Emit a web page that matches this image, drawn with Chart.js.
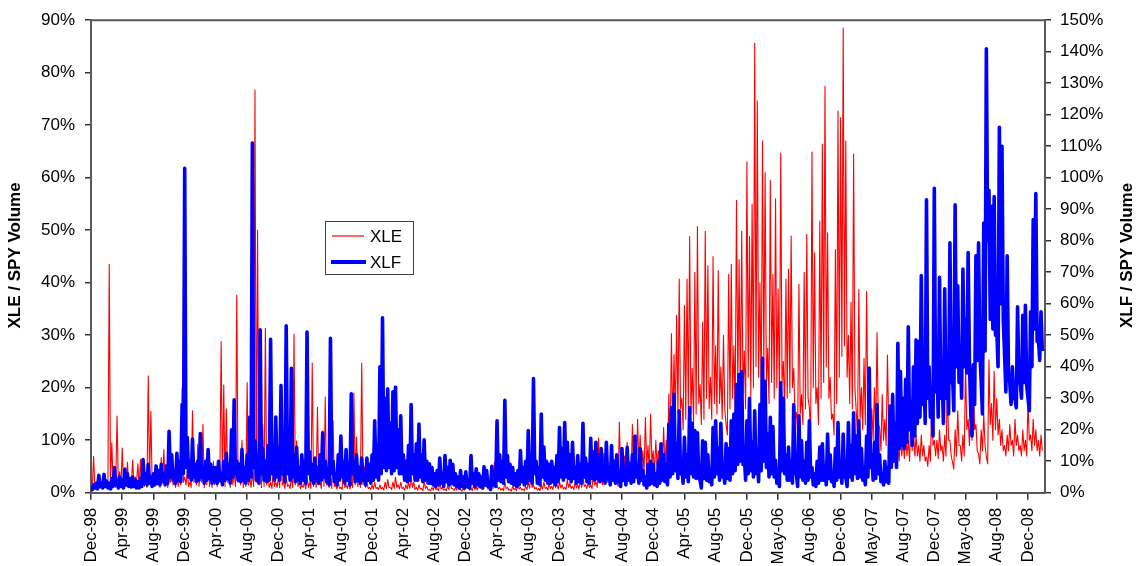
<!DOCTYPE html>
<html><head><meta charset="utf-8">
<script src="https://cdn.jsdelivr.net/npm/chart.js@4.4.1/dist/chart.umd.min.js"></script>
<style>html,body{margin:0;padding:0;background:#fff;}canvas{display:block;}</style>
</head><body>
<canvas id="c" width="1139" height="566"></canvas>
<script>
// Category labels shown on the x axis (one every 24 data points)
const tickLabels = ['Dec-98','Apr-99','Aug-99','Dec-99','Apr-00','Aug-00','Dec-00','Apr-01','Aug-01','Dec-01',
  'Apr-02','Aug-02','Dec-02','Apr-03','Aug-03','Dec-03','Apr-04','Aug-04','Dec-04','Apr-05',
  'Aug-05','Dec-05','May-06','Aug-06','Dec-06','May-07','Aug-07','Dec-07','May-08','Aug-08','Dec-08'];
const POINTS_PER_LABEL = 24;

// XLE / SPY volume (%), left axis: local highs
const xleHighs = [
  1.5, 6.9, 2, 1.5, 2, 3, 2.5, 43.5, 9.5, 3, 14.6, 4,
  8.5, 3, 5.8, 2, 6.2, 3, 5.5, 6.3, 2, 3, 22.2, 15.5,
  2, 3, 4, 6.7, 8.2, 4, 3, 5, 2, 4, 3, 20,
  3, 4, 2, 15.6, 5, 9.2, 4, 13, 5, 8, 3, 6,
  3, 5, 28.8, 20.5, 16, 3, 5, 4, 37.6, 5, 10, 5,
  21, 3, 4, 76.7, 50, 5, 13, 31.3, 3, 2, 4, 2,
  3, 20.7, 2, 3, 1.5, 3, 30.2, 9.9, 2, 1.5, 2, 3,
  2, 24.7, 3, 16.3, 2, 11.8, 18.2, 2, 3, 13.7, 1.5, 2,
  1, 6.2, 1.5, 2, 2, 19, 10.6, 3, 24.7, 5, 2, 1,
  1.5, 2, 1, 1.5, 1, 2, 2.5, 1, 2, 3, 1.5, 2,
  1, 1.5, 2, 3, 2, 1, 1.5, 0.8, 2, 1.2, 0.6, 1,
  1.5, 0.8, 2, 1, 0.7, 1.2, 2, 0.8, 1, 1.5, 0.6, 1,
  2.5, 1, 0.8, 1.5, 1, 2, 1.2, 5.2, 1.5, 1, 2, 5.8,
  1.5, 1, 0.8, 2, 1, 0.6, 1.2, 0.8, 1.5, 1, 0.7, 1.2,
  2, 3.3, 1.5, 1, 0.8, 1.5, 2, 1, 1.8, 1.2, 2.5, 1.5,
  2, 1.5, 1, 2.5, 1.8, 1.2, 2, 1.5, 2.5, 3, 1.5, 2,
  1.5, 3.7, 2, 10.4, 3, 7.5, 4, 3, 5, 4, 2, 13.4,
  5, 7, 9.6, 6, 13, 7, 14, 11, 8, 14.3, 9, 15,
  8, 10, 8, 9, 12.4, 10, 18.8, 30.3, 26.3, 33.8, 40.7, 18,
  35.7, 40.7, 48.8, 23.7, 42, 50.7, 20.6, 32.5, 49.8, 43.2, 22, 45,
  28, 42.3, 24, 30, 13, 41.6, 43.5, 28, 55.7, 44.4, 49.8, 27,
  63, 48.8, 55, 85.6, 74.6, 40, 67, 61, 27.5, 59.5, 41.6, 56,
  38.8, 64.7, 25, 40.7, 42.6, 48.9, 23.7, 15.3, 39.7, 18.7, 42, 49.2,
  16.2, 64.9, 45.7, 20, 51.7, 66.4, 77.4, 49.5, 22, 15, 46.3, 72.7,
  71.4, 88.5, 67, 30, 36.3, 64.5, 15.6, 38.7, 20, 25.6, 38.3, 21.8,
  16, 20, 30.5, 12.4, 18.7, 14, 26.2, 15, 8, 11.8, 9, 11,
  10, 11.8, 10, 15, 12, 11, 9, 11, 9, 6.8, 9, 16.2,
  10, 10, 12, 9, 11, 19.7, 10, 5.8, 12, 15.6, 9, 11,
  24.4, 14, 17, 22.8, 13, 7.4, 12, 15, 6.8, 25.3, 17, 23.1,
  18, 14, 12, 9, 11, 13, 10, 14, 11, 9, 12, 10,
  17.5, 11, 14, 12, 10, 11
];
// XLE: local lows that follow each high
const xleLows = [
  0.8, 1, 1.2, 0.8, 1.5, 1, 1.2, 2, 1.5, 1, 1.5, 1,
  1.5, 1.2, 1, 1.5, 1.2, 2, 1, 1.5, 1.2, 1, 2, 1.5,
  1.2, 1.5, 1, 2, 1.5, 1, 2, 1.5, 1, 1.2, 1.5, 2,
  1.5, 1.2, 1, 2, 1.5, 1.2, 2, 1, 1.5, 1.2, 1, 1.5,
  1.2, 2, 1.5, 1.2, 2, 1, 1.5, 1.2, 2, 1.5, 1, 1.2,
  1.5, 1, 1.2, 2, 1.5, 1, 1.2, 1.5, 1, 0.8, 1.2, 1,
  1, 1.5, 0.8, 1.2, 0.8, 1, 1.5, 1.2, 0.8, 1, 0.7, 1,
  0.8, 1.2, 1, 1.5, 0.8, 1.2, 1.5, 1, 0.8, 1.2, 0.7, 0.8,
  0.6, 1, 0.8, 0.7, 1, 1.5, 1.2, 1, 1.5, 1, 0.8, 0.6,
  0.7, 0.8, 0.6, 0.7, 0.5, 0.8, 1, 0.6, 0.8, 1, 0.7, 0.8,
  0.5, 0.7, 0.8, 1, 0.6, 0.5, 0.7, 0.4, 0.8, 0.5, 0.4, 0.5,
  0.6, 0.4, 0.7, 0.5, 0.4, 0.6, 0.8, 0.4, 0.5, 0.6, 0.3, 0.5,
  0.8, 0.5, 0.4, 0.6, 0.5, 0.8, 0.6, 1.2, 0.7, 0.5, 0.8, 1.5,
  0.7, 0.5, 0.4, 0.8, 0.5, 0.3, 0.6, 0.4, 0.7, 0.5, 0.4, 0.6,
  0.8, 1, 0.7, 0.5, 0.4, 0.7, 0.8, 0.5, 0.8, 0.6, 1, 0.7,
  0.9, 0.7, 0.6, 1, 0.8, 0.6, 0.9, 0.7, 1, 1.2, 0.8, 1,
  0.8, 1.5, 1, 3, 1.5, 2.5, 2, 1.5, 2.2, 2, 1.2, 3.5,
  2.5, 3, 3.5, 3, 4, 3.5, 5, 4, 3.5, 5, 4, 5.5,
  4, 5, 4, 4.5, 5, 4.5, 8, 12, 14, 15, 16, 12,
  14, 16, 15, 13, 15, 17, 13, 14, 18, 16, 14, 17,
  15, 17, 14, 16, 11, 16, 18, 15, 20, 17, 19, 16,
  22, 18, 20, 24, 22, 18, 24, 20, 17, 21, 18, 20,
  17, 21, 15, 18, 19, 20, 14, 11, 15, 13, 16, 18,
  11, 20, 17, 13, 18, 21, 24, 18, 14, 11, 17, 22,
  26, 28, 22, 17, 16, 20, 11, 14, 12, 13, 15, 12,
  10, 11, 13, 8, 10, 9, 12, 9, 6, 7, 6, 7,
  6.5, 7, 6, 8, 7, 7, 6, 7, 6, 5, 6, 9,
  7, 6.5, 8, 6, 7, 10, 7, 4.5, 7, 9, 6, 7,
  12, 9, 10, 12, 8, 5.5, 8, 9, 5.5, 13, 10, 12,
  11, 9, 8, 7, 8, 9, 7, 9, 8, 7, 8, 7,
  10, 8, 9, 8, 7, 8
];

// XLF / SPY volume (%), right axis: local highs
const xlfHighs = [
  2, 2.5, 3, 5.5, 3, 5.8, 3.5, 3, 4.5, 8, 4, 5,
  4, 7.5, 6, 4.5, 5, 4, 3.5, 4.5, 10.5, 6, 9, 5,
  6, 8.5, 7, 9, 6, 8.5, 19.5, 12, 7, 12.5, 10, 28,
  103, 17.5, 10, 17, 9, 10, 18.8, 8, 10, 13.7, 9, 8,
  8, 10, 6, 10, 12.5, 9, 20, 29.5, 10, 9, 13.8, 8,
  12, 24, 111, 16.5, 9, 51.7, 14, 10, 15, 48.7, 12, 24,
  14, 34, 10, 53, 12, 39.5, 12, 14.4, 8, 12, 10, 51,
  13, 9, 11, 8, 12, 19, 10, 7, 49, 10, 6, 12,
  18, 9, 13.7, 7, 31.4, 10, 12, 8, 11, 6, 11, 9,
  12, 22.8, 15, 40, 55.5, 30, 33, 22, 32, 33.5, 20, 24.4,
  12, 10, 15, 28, 12, 15.5, 21.8, 12, 16.8, 10, 9.2, 8,
  6, 7, 11, 6, 11.8, 8, 10.3, 9, 6, 5, 7, 5,
  6.6, 4, 11.8, 6, 7.6, 6, 5, 8.2, 7, 3.5, 8.4, 6,
  22.8, 12, 10, 29.3, 11.8, 9, 8, 6, 7, 13.4, 8, 10,
  19.7, 9, 36.2, 10, 8, 25, 14.5, 10, 9, 10, 8, 11.8,
  20.7, 14, 22.3, 16, 12, 16, 8, 11.8, 9, 22, 11, 9,
  17.3, 13, 16, 12, 14, 9, 16, 8, 15, 10, 12, 5,
  14, 8, 14.4, 9, 12, 18, 9, 14, 7, 5, 9, 10,
  9, 6, 10, 15.5, 12, 9, 21.8, 27, 31.2, 15.6, 26, 8.2,
  17.6, 12, 27, 22, 19.7, 19, 4, 16.5, 16, 12, 7, 20.7,
  22.8, 14, 22, 8, 15.6, 14, 22.8, 25, 34.3, 37.5, 38.5, 12,
  22.8, 30, 16, 26, 10, 28, 42.7, 35.4, 18.6, 23.9, 21, 10.3,
  5, 34.9, 30, 12, 14.5, 10, 28, 6, 24.4, 16.5, 10, 16,
  22.8, 8, 6, 10, 14.5, 15.5, 8, 18.6, 12, 6, 14, 22.3,
  8, 18.6, 5, 22.3, 15, 25.4, 18, 22.8, 14, 6, 18, 39.6,
  12, 16, 28, 12, 6, 10, 8, 27.5, 31.2, 22, 47.4, 38.5,
  30, 36, 52.7, 29, 40, 48.5, 48, 68.9, 40, 93, 40, 28,
  96.6, 42.7, 68.4, 37.6, 64.7, 41.7, 79.3, 37.5, 91.4, 65.7, 43.8, 71,
  55, 76.2, 25.4, 40.6, 75.2, 79.3, 35.4, 85.6, 140.9, 96, 90.9, 94,
  52, 116, 110, 43.8, 75.2, 34.9, 40, 30, 59, 35, 56.3, 59.5,
  30.1, 57.4, 86.7, 95, 49, 57.4
];
// XLF: local lows that follow each high
const xlfLows = [
  1, 1.5, 1.2, 2, 1.5, 2, 1.5, 1.2, 2, 2.5, 1.5, 2,
  1.5, 2.5, 2, 1.8, 2, 1.5, 1.5, 2, 3, 2.5, 3, 2,
  2.5, 3, 2.5, 3.5, 2.5, 3, 5, 4, 3, 4, 3.5, 6,
  8, 5, 4, 5, 3.5, 4, 5, 3, 4, 4.5, 3, 3.5,
  3, 4, 2.5, 4, 4.5, 3, 5, 6, 4, 3.5, 4, 3,
  4, 5, 8, 4, 3, 6, 4, 3.5, 4, 6, 4, 5,
  4, 6, 3.5, 6, 4, 5, 3.5, 4, 3, 4, 3, 6,
  4, 3, 4, 3, 4, 5, 3.5, 2.5, 6, 3.5, 2.5, 4,
  5, 3, 4, 2.5, 6, 3.5, 4, 3, 4, 2.5, 4, 3,
  4, 5, 4, 6, 8, 7, 8, 6, 7, 8, 6, 6,
  4, 3.5, 4, 6, 4, 4, 5, 3.5, 4, 3, 3, 2.5,
  2, 2.5, 3, 2, 3.5, 2.5, 3, 2.5, 2, 1.5, 2, 1.5,
  2, 1.5, 3, 2, 2.5, 2, 1.5, 2.5, 2, 1, 2.5, 2,
  4, 3.5, 3, 5, 3.5, 3, 2.5, 2, 2.5, 3.5, 2.5, 3,
  4, 3, 6, 3, 2.5, 5, 4, 3, 3, 3.5, 2.5, 3.5,
  5, 4, 5, 4.5, 3.5, 4.5, 3, 3.5, 3, 5, 3.5, 3,
  4.5, 4, 4.5, 3.5, 4, 3, 4.5, 2.5, 4, 3, 3.5, 2,
  4, 2.5, 4, 3, 3.5, 5, 3, 4, 2.5, 1.5, 2.5, 3,
  2.5, 2, 3, 4, 3.5, 2.5, 5, 6, 7, 4.5, 6, 3,
  5, 3.5, 6, 5, 4.5, 5, 1.5, 4.5, 4, 3.5, 2.5, 5,
  6, 4, 5, 3, 4.5, 4, 6, 7, 9, 10, 9, 4,
  6, 7, 5, 6, 3.5, 7, 10, 8, 5, 6, 5, 3,
  2, 7, 6, 4, 4, 3, 6, 2, 5, 4, 3, 4,
  5, 2.5, 2, 3, 4, 4, 2.5, 4.5, 3.5, 2, 4, 5,
  3, 5, 2, 5, 4, 6, 4.5, 5, 4, 2.5, 5, 8,
  4, 4.5, 6, 3.5, 2.5, 3.5, 3, 8, 10, 8, 14, 15,
  14, 16, 20, 15, 18, 22, 24, 28, 22, 30, 24, 18,
  32, 24, 30, 22, 30, 25, 35, 26, 40, 35, 30, 40,
  38, 42, 18, 28, 42, 45, 25, 45, 80, 55, 52, 50,
  40, 60, 55, 32, 38, 28, 30, 27, 35, 30, 35, 34,
  26, 40, 52, 48, 42, 45
];

const seriesNames = ['XLE', 'XLF'];
const axisTitles = ['XLE / SPY Volume', 'XLF / SPY Volume'];

// Each reading is a high followed by the low after it
const xle = xleHighs.flatMap((v, i) => [v, xleLows[i]]);
const xlf = xlfHighs.flatMap((v, i) => [v, xlfLows[i]]);
const xIndex = xle.map((_, i) => i);

const FONT = '"Liberation Sans", Arial, sans-serif';
const W = 1139, H = 566;
const PLOT = {left: 91, right: 1045, top: 15, bottom: 492.7};
const LAST_TICK_X = 1028;
const X_MAX = (PLOT.right - PLOT.left) / ((LAST_TICK_X - PLOT.left) / ((tickLabels.length - 1) * POINTS_PER_LABEL));

const decor = {
  id: 'decor',
  afterDraw(chart) {
    const {ctx, chartArea: a} = chart;
    ctx.save();
    ctx.strokeStyle = '#595959';
    ctx.lineWidth = 2;
    ctx.beginPath();
    ctx.moveTo(a.left, a.top);
    ctx.lineTo(a.right, a.top);
    ctx.stroke();

    ctx.fillStyle = '#000';
    ctx.font = 'bold 17px ' + FONT;
    ctx.textAlign = 'center';
    ctx.textBaseline = 'middle';
    const cy = (a.top + a.bottom) / 2 - 1;
    ctx.save(); ctx.translate(15, cy); ctx.rotate(-Math.PI / 2); ctx.fillText(axisTitles[0], 0, 0); ctx.restore();
    ctx.save(); ctx.translate(1127, cy); ctx.rotate(-Math.PI / 2); ctx.fillText(axisTitles[1], 0, 0); ctx.restore();

    // legend box
    const lx = 325, ly = 221, lw = 88, lh = 53;
    ctx.fillStyle = '#fff';
    ctx.fillRect(lx, ly, lw, lh);
    ctx.strokeStyle = '#404040';
    ctx.lineWidth = 1;
    ctx.strokeRect(lx + 0.5, ly + 0.5, lw, lh);
    ctx.lineCap = 'butt';
    ctx.strokeStyle = '#ff0000'; ctx.lineWidth = 1.2;
    ctx.beginPath(); ctx.moveTo(332, 236); ctx.lineTo(364, 236); ctx.stroke();
    ctx.strokeStyle = '#0000ff'; ctx.lineWidth = 4;
    ctx.beginPath(); ctx.moveTo(331, 262); ctx.lineTo(366, 262); ctx.stroke();
    ctx.fillStyle = '#000';
    ctx.font = '17px ' + FONT;
    ctx.textAlign = 'left';
    ctx.fillText(seriesNames[0], 370, 237);
    ctx.fillText(seriesNames[1], 370, 263);
    ctx.restore();
  }
};

const tickFont = {family: FONT, size: 17};

new Chart(document.getElementById('c'), {
  type: 'line',
  data: {
    labels: xIndex,
    datasets: [
      {label: seriesNames[0], data: xle, yAxisID: 'y', borderColor: '#ff0000', borderWidth: 1.1,
       pointRadius: 0, tension: 0, borderJoinStyle: 'round', order: 1, fill: false},
      {label: seriesNames[1], data: xlf, yAxisID: 'y1', borderColor: '#0000ff', borderWidth: 3.6,
       pointRadius: 0, tension: 0, borderJoinStyle: 'round', order: 0, fill: false}
    ]
  },
  options: {
    responsive: false,
    animation: false,
    events: [],
    layout: {padding: {top: PLOT.top, left: 0, right: 0, bottom: 0}},
    plugins: {legend: {display: false}, tooltip: {enabled: false}},
    scales: {
      x: {
        type: 'linear', min: 0, max: X_MAX, bounds: 'data',
        afterBuildTicks: s => { s.ticks = tickLabels.map((_, k) => ({value: k * POINTS_PER_LABEL})); },
        afterFit: s => { s.height = H - PLOT.bottom; },
        ticks: {
          callback: v => tickLabels[Math.round(v / POINTS_PER_LABEL)],
          autoSkip: false, maxRotation: 90, minRotation: 90, padding: 8,
          color: '#000', font: tickFont
        },
        grid: {drawOnChartArea: false, drawTicks: true, tickLength: 7, color: '#333', lineWidth: 1.5},
        border: {display: true, color: '#595959', width: 2}
      },
      y: {
        position: 'left', min: 0, max: 90,
        afterFit: s => { s.width = PLOT.left; },
        ticks: {stepSize: 10, callback: v => v + '%', padding: 10, color: '#000', font: tickFont},
        grid: {drawOnChartArea: false, drawTicks: true, tickLength: 6, color: '#333', lineWidth: 1.5},
        border: {display: true, color: '#595959', width: 2}
      },
      y1: {
        position: 'right', min: 0, max: 150,
        afterFit: s => { s.width = W - PLOT.right; },
        ticks: {stepSize: 10, callback: v => v + '%', padding: 9, color: '#000', font: tickFont},
        grid: {drawOnChartArea: false, drawTicks: true, tickLength: 6, color: '#333', lineWidth: 1.5},
        border: {display: true, color: '#595959', width: 2}
      }
    }
  },
  plugins: [decor]
});
</script>
</body></html>
